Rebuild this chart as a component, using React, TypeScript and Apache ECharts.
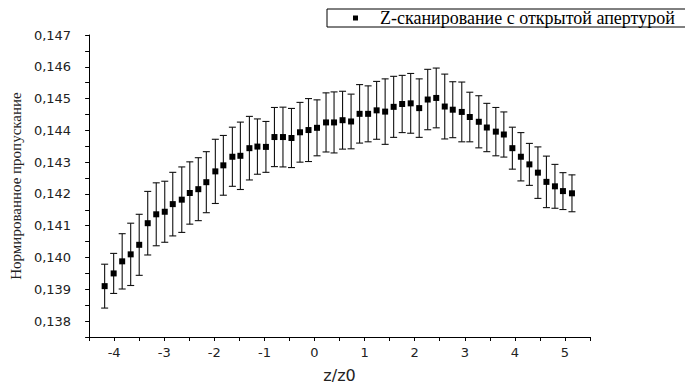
import React, { useEffect, useRef } from "react";
import * as echarts from "echarts";

const seriesName = "Z-сканирование с открытой апертурой";
const xAxisTitle = "z/z0";
const yAxisTitle = "Нормированное пропускание";

const zValues = [
  -4.19, -4.01, -3.84, -3.67, -3.50, -3.33, -3.16, -2.99, -2.83, -2.65,
  -2.49, -2.32, -2.16, -1.98, -1.82, -1.64, -1.48, -1.30, -1.14, -0.97,
  -0.80, -0.63, -0.46, -0.29, -0.12, 0.05, 0.23, 0.39, 0.56, 0.73,
  0.90, 1.07, 1.24, 1.41, 1.58, 1.75, 1.92, 2.09, 2.26, 2.43,
  2.60, 2.76, 2.94, 3.10, 3.28, 3.44, 3.62, 3.78, 3.95, 4.12,
  4.29, 4.46, 4.63, 4.80, 4.96, 5.14,
];

const transmission = [
  0.1391, 0.13950, 0.13988, 0.14010, 0.14040, 0.14108, 0.14136, 0.14144, 0.14168, 0.14182,
  0.14203, 0.14215, 0.14237, 0.14271, 0.14290, 0.14317, 0.14320, 0.14344, 0.14349, 0.14348,
  0.14379, 0.14379, 0.14376, 0.14394, 0.14401, 0.14408, 0.14425, 0.14425, 0.14432, 0.14428,
  0.14452, 0.14452, 0.14463, 0.14459, 0.14474, 0.14483, 0.14485, 0.14470, 0.14497, 0.14502,
  0.14475, 0.14465, 0.14458, 0.14442, 0.14427, 0.14409, 0.14396, 0.14387, 0.14344, 0.14317,
  0.14293, 0.14267, 0.14238, 0.14224, 0.14209, 0.14202,
];

const errors = [
  0.00069, 0.00063, 0.00087, 0.00098, 0.00096, 0.00100, 0.00099, 0.00096, 0.00100, 0.00103,
  0.00098, 0.00099, 0.00096, 0.00101, 0.00094, 0.00093, 0.00106, 0.00100, 0.00087, 0.00080,
  0.00093, 0.00094, 0.00093, 0.00094, 0.00099, 0.00088, 0.00093, 0.00096, 0.00091, 0.00086,
  0.00092, 0.00088, 0.00091, 0.00103, 0.00096, 0.00090, 0.00094, 0.00092, 0.00095, 0.00094,
  0.00102, 0.00088, 0.00094, 0.00078, 0.00082, 0.00076, 0.00076, 0.00071, 0.00066, 0.00076,
  0.00066, 0.00081, 0.00081, 0.00069, 0.00058, 0.00058,
];

const yTickLabels = ["0,138", "0,139", "0,140", "0,141", "0,142", "0,143", "0,144", "0,145", "0,146", "0,147"];
const xTickLabels = ["-4", "-3", "-2", "-1", "0", "1", "2", "3", "4", "5"];

export default function App() {
  const ref = useRef<HTMLDivElement>(null);

  useEffect(() => {
    if (!ref.current) return;
    const chart = echarts.init(ref.current, undefined, { renderer: "svg" });

    const points = zValues.map((z, i) => [z, transmission[i]]);
    const bars = zValues.map((z, i) => [z, transmission[i] - errors[i], transmission[i] + errors[i]]);

    const yLabel = (v: number) => {
      const k = Math.round(v * 1000);
      if (Math.abs(v * 1000 - k) > 1e-6) return "";
      const s = (k / 1000).toFixed(3).replace(".", ",");
      return yTickLabels.includes(s) ? s : "";
    };
    const xLabel = (v: number) => {
      const k = Math.round(v);
      if (Math.abs(v - k) > 1e-6) return "";
      const s = String(k);
      return xTickLabels.includes(s) ? s : "";
    };

    chart.setOption({
      animation: false,
      backgroundColor: "#ffffff",
      grid: { left: 89, right: 95, top: 35, bottom: 50, containLabel: false },
      legend: {
        data: [{ name: seriesName, icon: "rect" }],
        left: 327,
        top: 9,
        itemWidth: 5,
        itemHeight: 5,
        borderColor: "#000",
        borderWidth: 1,
        borderRadius: 0,
        padding: [0, 64, 0, 26],
        textStyle: {
          fontFamily: "Liberation Serif",
          fontSize: 18,
          color: "#000",
          padding: [0, 0, 0, 17],
        },
        selectedMode: false,
      },
      xAxis: {
        type: "value",
        min: -4.5,
        max: 5.5,
        interval: 0.5,
        name: xAxisTitle,
        nameLocation: "middle",
        nameGap: 30,
        nameTextStyle: { fontFamily: "DejaVu Sans", fontSize: 16, color: "#222" },
        axisLine: { onZero: false, lineStyle: { color: "#000", width: 1 } },
        axisTick: { show: true, inside: false, length: 4, lineStyle: { color: "#000" } },
        axisLabel: {
          formatter: xLabel,
          fontFamily: "DejaVu Sans",
          fontSize: 13,
          color: "#222",
          margin: 9,
          showMinLabel: true,
          showMaxLabel: true,
        },
        splitLine: { show: false },
      },
      yAxis: {
        type: "value",
        min: 0.1375,
        max: 0.147,
        interval: 0.0005,
        name: yAxisTitle,
        nameLocation: "middle",
        nameGap: 62,
        nameTextStyle: { fontFamily: "Liberation Serif", fontSize: 15, color: "#222" },
        axisLine: { onZero: false, lineStyle: { color: "#000", width: 1 } },
        axisTick: { show: true, inside: false, length: 4, lineStyle: { color: "#000" } },
        axisLabel: {
          formatter: yLabel,
          fontFamily: "DejaVu Sans",
          fontSize: 13,
          color: "#222",
          margin: 18,
        },
        splitLine: { show: false },
      },
      series: [
        {
          type: "custom",
          name: "errors",
          data: bars,
          encode: { x: 0, y: [1, 2] },
          silent: true,
          z: 2,
          renderItem: (_params: any, api: any) => {
            const x = api.value(0);
            const lo = api.coord([x, api.value(1)]);
            const hi = api.coord([x, api.value(2)]);
            const cap = 3.5;
            const style = { stroke: "#111", lineWidth: 1.1 };
            return {
              type: "group",
              children: [
                { type: "line", shape: { x1: hi[0], y1: hi[1], x2: lo[0], y2: lo[1] }, style },
                { type: "line", shape: { x1: hi[0] - cap, y1: hi[1], x2: hi[0] + cap, y2: hi[1] }, style },
                { type: "line", shape: { x1: lo[0] - cap, y1: lo[1], x2: lo[0] + cap, y2: lo[1] }, style },
              ],
            };
          },
        },
        {
          type: "scatter",
          name: seriesName,
          data: points,
          symbol: "rect",
          symbolSize: 6,
          itemStyle: { color: "#000", opacity: 1 },
          z: 3,
        },
      ],
    });

    return () => chart.dispose();
  }, []);

  return (
    <div
      ref={ref}
      style={{ position: "fixed", left: 0, top: 0, width: 685, height: 388, background: "#fff" }}
    />
  );
}
